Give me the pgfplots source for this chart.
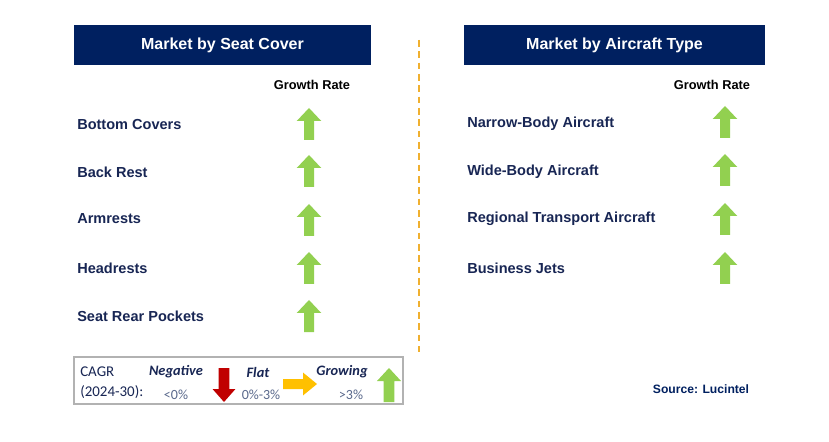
\documentclass[border=0pt]{standalone}
\usepackage{pgfplots}
\pgfplotsset{compat=1.18}
\usepackage{fontspec}
\setmainfont{Liberation Sans}
\newfontfamily\carlito{Carlito}
\definecolor{navy}{RGB}{0,32,96}
\definecolor{labnavy}{RGB}{24,38,84}
\definecolor{agreen}{RGB}{146,208,80}
\definecolor{ared}{RGB}{192,0,0}
\definecolor{aorange}{RGB}{255,192,0}
\definecolor{dashor}{RGB}{240,176,48}
\definecolor{lgray}{RGB}{90,105,140}
% arrows (units: 1px = 0.75pt)
\pgfdeclareplotmark{uparr}{%
  \pgfpathmoveto{\pgfpoint{-3.75pt}{-12pt}}%
  \pgfpathlineto{\pgfpoint{-3.75pt}{2.25pt}}%
  \pgfpathlineto{\pgfpoint{-9.2pt}{2.25pt}}%
  \pgfpathlineto{\pgfpoint{0pt}{12pt}}%
  \pgfpathlineto{\pgfpoint{9.2pt}{2.25pt}}%
  \pgfpathlineto{\pgfpoint{3.75pt}{2.25pt}}%
  \pgfpathlineto{\pgfpoint{3.75pt}{-12pt}}%
  \pgfpathclose\pgfusepathqfill}
\pgfdeclareplotmark{legup}{%
  \pgfpathmoveto{\pgfpoint{-4.1pt}{-12.75pt}}%
  \pgfpathlineto{\pgfpoint{-4.1pt}{3pt}}%
  \pgfpathlineto{\pgfpoint{-9pt}{3pt}}%
  \pgfpathlineto{\pgfpoint{0pt}{12.75pt}}%
  \pgfpathlineto{\pgfpoint{9pt}{3pt}}%
  \pgfpathlineto{\pgfpoint{4.1pt}{3pt}}%
  \pgfpathlineto{\pgfpoint{4.1pt}{-12.75pt}}%
  \pgfpathclose\pgfusepathqfill}
\pgfdeclareplotmark{legdown}{%
  \pgfpathmoveto{\pgfpoint{-4.1pt}{12.75pt}}%
  \pgfpathlineto{\pgfpoint{-4.1pt}{-3pt}}%
  \pgfpathlineto{\pgfpoint{-8.6pt}{-3pt}}%
  \pgfpathlineto{\pgfpoint{0pt}{-12.75pt}}%
  \pgfpathlineto{\pgfpoint{8.6pt}{-3pt}}%
  \pgfpathlineto{\pgfpoint{4.1pt}{-3pt}}%
  \pgfpathlineto{\pgfpoint{4.1pt}{12.75pt}}%
  \pgfpathclose\pgfusepathqfill}
\pgfdeclareplotmark{legright}{%
  \pgfpathmoveto{\pgfpoint{-12.75pt}{3.75pt}}%
  \pgfpathlineto{\pgfpoint{2.25pt}{3.75pt}}%
  \pgfpathlineto{\pgfpoint{2.25pt}{8.6pt}}%
  \pgfpathlineto{\pgfpoint{12.75pt}{0pt}}%
  \pgfpathlineto{\pgfpoint{2.25pt}{-8.6pt}}%
  \pgfpathlineto{\pgfpoint{2.25pt}{-3.75pt}}%
  \pgfpathlineto{\pgfpoint{-12.75pt}{-3.75pt}}%
  \pgfpathclose\pgfusepathqfill}
\begin{document}
\begin{tikzpicture}
\begin{axis}[
  scale only axis, width=621.75pt, height=331.5pt,
  xmin=0, xmax=829, ymin=0, ymax=442, y dir=reverse,
  hide axis, clip=false]
\fill[white] (axis cs:0,0) rectangle (axis cs:829,442);
% headers
\fill[navy] (axis cs:74,25) rectangle (axis cs:371,65);
\node[white, font=\fontsize{12}{14}\selectfont\bfseries] at (axis cs:222.5,45) {Market by Seat Cover};
\fill[navy] (axis cs:464,25) rectangle (axis cs:765,65);
\node[white, font=\fontsize{12}{14}\selectfont\bfseries] at (axis cs:614.5,45) {Market by Aircraft Type};
\node[black, font=\fontsize{9.6}{11}\selectfont\bfseries] at (axis cs:312,85) {Growth Rate};
\node[black, font=\fontsize{9.6}{11}\selectfont\bfseries] at (axis cs:712,85) {Growth Rate};
% divider
\draw[dashor, line width=1.2pt, dash pattern=on 5pt off 3.5pt] (axis cs:419,40) -- (axis cs:419,352);
% labels
\begin{scope}[every node/.style={anchor=west, inner sep=0pt, text=labnavy, font=\fontsize{10.9}{12}\selectfont\bfseries}]
\node at (axis cs:77,124) {Bottom Covers};
\node at (axis cs:77,172) {Back Rest};
\node at (axis cs:77,219) {Armrests};
\node at (axis cs:77,268) {Headrests};
\node at (axis cs:77,316) {Seat Rear Pockets};
\node at (axis cs:467,124) {Narrow-Body Aircraft};
\node at (axis cs:467,172) {Wide-Body Aircraft};
\node at (axis cs:467,219) {Regional Transport Aircraft};
\node at (axis cs:467,268) {Business Jets};
\end{scope}
% growth arrows
\addplot[only marks, mark=uparr, color=agreen] coordinates {(309,124) (309,171) (309,220) (309,268) (309,316)};
\addplot[only marks, mark=uparr, color=agreen] coordinates {(725,122) (725,170) (725,219) (725,268)};
% legend box
\draw[gray!60, line width=0.9pt] (axis cs:74,357) rectangle (axis cs:403,404);
\node[anchor=west, inner sep=0pt, text=labnavy, font=\carlito\fontsize{11.2}{12}\selectfont] at (axis cs:80,372) {CAGR};
\node[anchor=west, inner sep=0pt, text=labnavy, font=\carlito\fontsize{11.2}{12}\selectfont] at (axis cs:80,392) {(2024-30):};
\begin{scope}[every node/.style={inner sep=0pt, text=labnavy, font=\carlito\fontsize{10.8}{12}\selectfont\bfseries\itshape}]
\node at (axis cs:176,372) {Negative};
\node at (axis cs:258,372) {Flat};
\node at (axis cs:342,372) {Growing};
\end{scope}
\begin{scope}[every node/.style={inner sep=0pt, text=lgray, font=\carlito\fontsize{10.5}{12}\selectfont}]
\node at (axis cs:176,395) {<0\%};
\node at (axis cs:261,395) {0\%-3\%};
\node at (axis cs:351,395) {>3\%};
\end{scope}
\addplot[only marks, mark=legdown, color=ared] coordinates {(224,385)};
\addplot[only marks, mark=legright, color=aorange] coordinates {(300,384)};
\addplot[only marks, mark=legup, color=agreen] coordinates {(389,385)};
% source
\node[text=navy, font=\fontsize{9.1}{11}\selectfont\bfseries] at (axis cs:701,389) {Source: Lucintel};
\end{axis}
\end{tikzpicture}
\end{document}
